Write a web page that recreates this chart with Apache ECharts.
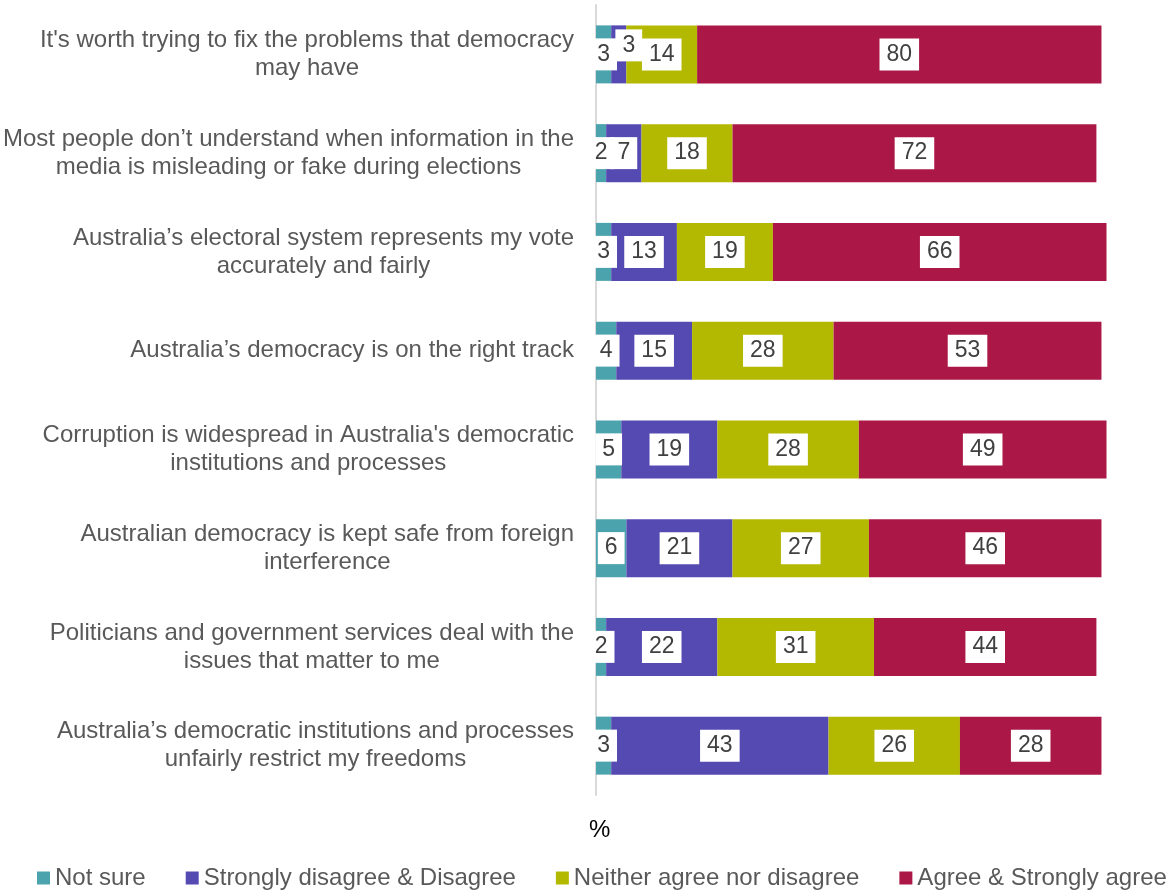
<!DOCTYPE html>
<html>
<head>
<meta charset="utf-8">
<script src="https://cdn.jsdelivr.net/npm/echarts@6/dist/echarts.min.js"></script>
<style>
    html, body { margin: 0; padding: 0; background: #fff; }
    #chart { width: 1168px; height: 893px; }
</style>
</head>
<body>
<div id="chart"></div>
<script>
// statements (top to bottom)
var categories = [
    'It\'s worth trying to fix the problems that democracy\nmay have',
    'Most people don\u2019t understand when information in the\nmedia is misleading or fake during elections',
    'Australia\u2019s electoral system represents my vote\naccurately and fairly',
    'Australia\u2019s democracy is on the right track',
    'Corruption is widespread in Australia\'s democratic\ninstitutions and processes',
    'Australian democracy is kept safe from foreign\ninterference',
    'Politicians and government services deal with the\nissues that matter to me',
    'Australia\u2019s democratic institutions and processes\nunfairly restrict my freedoms'
]
var seriesNames = ['Not sure', 'Strongly disagree & Disagree', 'Neither agree nor disagree', 'Agree & Strongly agree']
var notSure = [3, 2, 3, 4, 5, 6, 2, 3]
var disagree = [3, 7, 13, 15, 19, 21, 22, 43]
var neither = [14, 18, 19, 28, 28, 27, 31, 26]
var agree = [80, 72, 66, 53, 49, 46, 44, 28]

var colors = ['#4ba4ad', '#5549b2', '#b3b800', '#ab1847']
var fontFamily = '"Liberation Sans", Arial, sans-serif'
var textColor = '#595959'

var values = [notSure, disagree, neither, agree]
var series = []
for (var i = 0; i < values.length; i++) {
    var data = []
    for (var j = 0; j < values[i].length; j++) {
        var item = { value: values[i][j] }
        // two tiny neighbouring segments: nudge the label so they don't sit on top of each other
        if (i > 0 && (values[i - 1][j] + values[i][j]) / 2 < 4.5) {
            item.label = { offset: [10, -9] }
        }
        data.push(item)
    }
    series.push({
        name: seriesNames[i],
        type: 'bar',
        stack: 'total',
        barWidth: 58,
        itemStyle: { color: colors[i] },
        label: {
            show: true,
            position: 'inside',
            color: '#404040',
            fontSize: 23,
            fontFamily: fontFamily,
            backgroundColor: '#fff',
            padding: [5, 7, 4, 7]
        },
        data: data
    })
}

var option = {
    animation: false,
    textStyle: { fontFamily: fontFamily },
    title: {
        text: '%',
        left: 584,
        top: 813,
        textStyle: { fontSize: 24, fontWeight: 'normal', color: '#000', fontFamily: fontFamily }
    },
    legend: {
        left: 37,
        top: 866,
        padding: 0,
        width: 1131,
        itemWidth: 13,
        itemHeight: 13,
        itemGap: 40,
        icon: 'rect',
        textStyle: { fontSize: 24, color: textColor, fontFamily: fontFamily },
        data: seriesNames
    },
    grid: {
        left: 594,
        right: 16,
        top: 5,
        bottom: 98
    },
    xAxis: {
        type: 'value',
        min: 0,
        max: 110,
        axisLine: { show: false },
        axisTick: { show: false },
        axisLabel: { show: false },
        splitLine: { show: false }
    },
    yAxis: {
        type: 'category',
        inverse: true,
        data: categories,
        axisTick: { show: false },
        axisLine: { lineStyle: { color: '#d9d9d9', width: 2 } },
        axisLabel: {
            margin: 22,
            align: 'right',
            lineHeight: 28,
            formatter: function (val) {
                return val.split('\n').map(function (s) { return '{c|' + s + '}' }).join('\n')
            },
            rich: {
                c: { align: 'center', fontSize: 24, lineHeight: 28, color: textColor, fontFamily: fontFamily }
            }
        }
    },
    series: series
}

var myChart = echarts.init(document.getElementById('chart'))
myChart.setOption(option)
</script>
</body>
</html>
